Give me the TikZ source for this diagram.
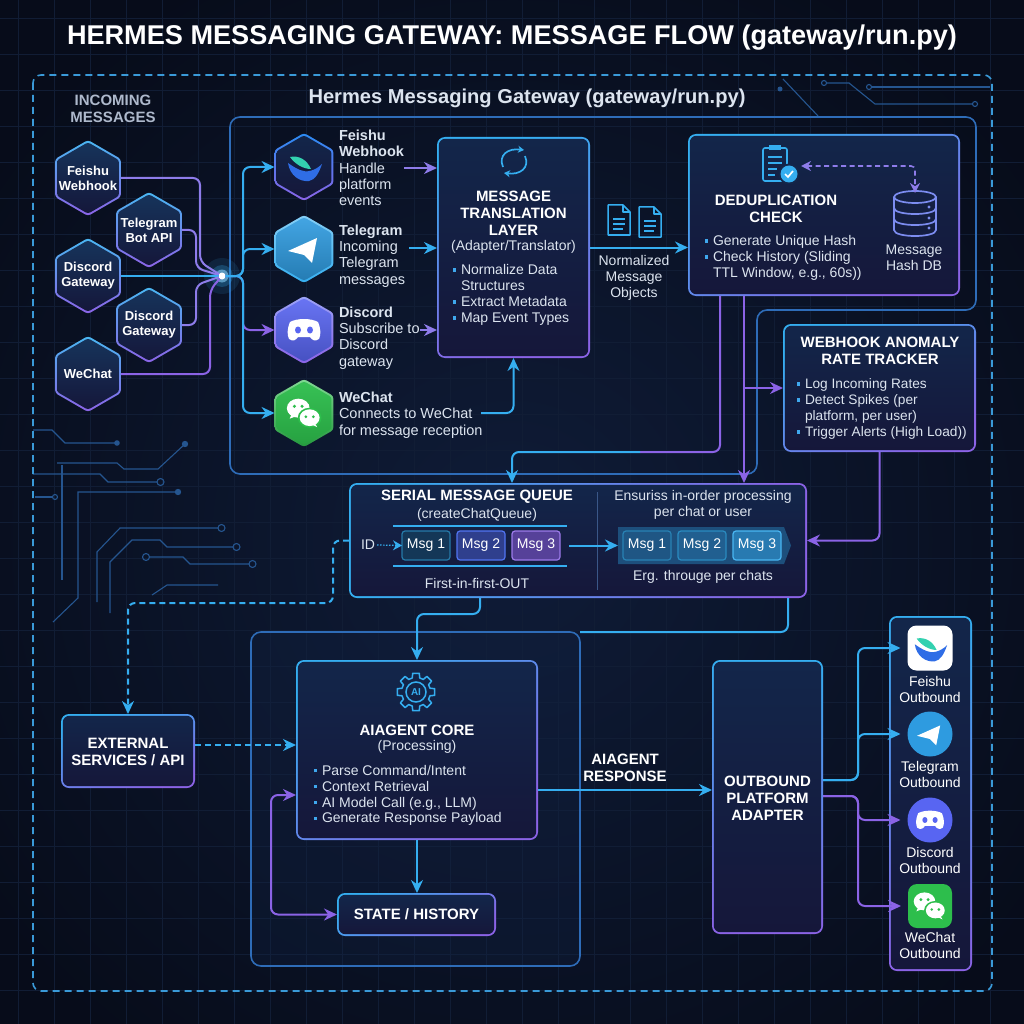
\documentclass[tikz,border=0pt]{standalone}
\usepackage{fontspec}
\setmainfont{Liberation Sans}
\usepackage{graphicx}
\usetikzlibrary{arrows.meta,calc}
\pgfdeclarelayer{bgl}
\pgfdeclarelayer{boxl}
\pgfsetlayers{bgl,boxl,main}

\definecolor{bgC}{HTML}{070C1A}
\definecolor{bgGlow}{HTML}{0F1C38}
\definecolor{gridC}{HTML}{111D35}
\definecolor{traceC}{HTML}{25558F}
\definecolor{cyanC}{HTML}{35AEF0}
\definecolor{purpC}{HTML}{8B63E6}
\definecolor{lavC}{HTML}{8E7CEA}
\definecolor{dashC}{HTML}{3A9AD8}
\definecolor{gwC}{HTML}{2E6CB8}
\definecolor{bxTop}{HTML}{13264A}
\definecolor{bxBot}{HTML}{15173A}
\definecolor{txtC}{HTML}{DCE4EF}
\definecolor{grayC}{HTML}{AEB9CC}
\definecolor{bulC}{HTML}{3FA8EE}
\definecolor{divC}{HTML}{3A5788}
\definecolor{tgBlue}{HTML}{2E9BE0}
\definecolor{dcBlue}{HTML}{5865F2}
\definecolor{wcG}{HTML}{2DBE4C}
\definecolor{fsBlue}{HTML}{2F6DE6}
\definecolor{fsTeal}{HTML}{33D1B0}
\definecolor{dbC}{HTML}{7C8CF0}

\newcommand\myfb{\fontsize{14}{16}\selectfont}
\newcommand\myfp{\fontsize{14.5}{16.4}\selectfont}
\newcommand\myfh{\bfseries\fontsize{15}{17}\selectfont}
\newcommand\myfhex{\bfseries\fontsize{13}{15}\selectfont}
\newcommand\mybul{\makebox[8pt][l]{\textcolor{bulC}{\rule[3pt]{3.3pt}{3.3pt}}}}
\newcommand\myind{\hspace*{8pt}}

\newcommand\mkbox[6]{%
  \pgfmathsetmacro\bxw{#4-#2}\pgfmathsetmacro\bxh{#5-#3}%
  \pgfmathsetmacro\bxx{(#2+#4)/2}\pgfmathsetmacro\bxy{(#3+#5)/2}%
  \node[panel, minimum width=\bxw pt, minimum height=\bxh pt] (#1) at (\bxx,\bxy) {};%
  \begin{pgfonlayer}{boxl}%
    \shade[top color=cyanC, bottom color=purpC, shading angle=#6, rounded corners=8pt] (#1.north west) rectangle (#1.south east);%
    \shade[top color=bxTop, bottom color=bxBot, rounded corners=6.5pt] ([xshift=1.8pt,yshift=-1.8pt]#1.north west) rectangle ([xshift=-1.8pt,yshift=1.8pt]#1.south east);%
  \end{pgfonlayer}}

\newcommand\hexat[5]{%
  \pgfmathsetmacro\myhr{#3-2.3}%
  \shade[#4, rounded corners=3pt] (#1,#2) +(90:#3) -- +(30:#3) -- +(-30:#3) -- +(-90:#3) -- +(-150:#3) -- +(150:#3) -- cycle;%
  \shade[#5, rounded corners=2.5pt] (#1,#2) +(90:\myhr) -- +(30:\myhr) -- +(-30:\myhr) -- +(-90:\myhr) -- +(-150:\myhr) -- +(150:\myhr) -- cycle;}

\tikzset{
  fslogo/.pic={
    \fill[fsTeal] (-13,-11) .. controls (-4,-13) and (4,-8) .. (8,1) .. controls (0,1) and (-8,-4) .. cycle;
    \fill[fsBlue] (-15,-5) .. controls (-13,8) and (-3,14) .. (6,13) .. controls (12,12) and (16,5) .. (19,-4) .. controls (12,3) and (3,5) .. (-3,2) .. controls (-8,0) and (-12,-3) .. cycle;
  },
  tgplane/.pic={
    \fill[white] (-15,1) -- (14,-12) -- (9,13) -- (1,5) -- cycle;
  },
  dcface/.pic={
    \fill[white] (-14,-8) .. controls (-7,-12) and (7,-12) .. (14,-8) .. controls (17,-1) and (17,5) .. (15,9) .. controls (11,12) and (8,10) .. (6,7) -- (-6,7) .. controls (-8,10) and (-11,12) .. (-15,9) .. controls (-17,5) and (-17,-1) .. cycle;
    \fill[dcBlue] (-6,0) ellipse [x radius=3, y radius=3.5] (6,0) ellipse [x radius=3, y radius=3.5];
  },
  wcbub/.pic={
    \fill[white] (-5,-4) ellipse [x radius=12, y radius=10];
    \fill[white] (-14,7) -- (-11,0) -- (-6,4) -- cycle;
    \fill[wcG] (7,6) ellipse [x radius=12.5, y radius=10.5];
    \fill[white] (7,6) ellipse [x radius=10.5, y radius=8.8];
    \fill[white] (15,16) -- (12,11) -- (9,13) -- cycle;
    \fill[wcG] (-9,-6) circle (1.8) (-1,-6) circle (1.8) (3,5) circle (1.6) (11,5) circle (1.6);
  },
  dbicon/.pic={
    \draw[dbC, line width=1.7pt] (0,-16) ellipse [x radius=21, y radius=6];
    \draw[dbC, line width=1.7pt] (-21,-16) -- (-21,17) .. controls (-21,25) and (21,25) .. (21,17) -- (21,-16);
    \draw[dbC, line width=1.7pt] (-21,-5) .. controls (-21,3) and (21,3) .. (21,-5);
    \draw[dbC, line width=1.7pt] (-21,6) .. controls (-21,14) and (21,14) .. (21,6);
    \fill[dbC] (14,-6) circle (1.6) (14,5) circle (1.6) (14,15) circle (1.6);
  },
  clipicon/.pic={
    \draw[cyanC, line width=1.6pt, rounded corners=2pt] (-12,-15) rectangle (12,18);
    \fill[cyanC] (-6,-18) rectangle (6,-13);
    \draw[cyanC, line width=1.5pt] (-7,-6) -- (7,-6) (-7,0) -- (7,0) (-7,6) -- (2,6) (-7,12) -- (0,12);
    \fill[bxTop] (14,11) circle (10.5);
    \fill[cyanC] (14,11) circle (8.5);
    \draw[white, line width=1.7pt] (10,11) -- (13,14) -- (18,8);
  },
  syncicon/.pic={
    \draw[cyanC, line width=1.7pt, -{Stealth[length=6pt,width=7pt]}] (-11,6) .. controls (-16,-6) and (-6,-13) .. (10,-11);
    \draw[cyanC, line width=1.7pt, -{Stealth[length=6pt,width=7pt]}] (11,-5) .. controls (16,7) and (6,14) .. (-10,12);
  },
  docicon/.pic={
    \draw[cyanC, line width=1.5pt, line join=round] (-11,-15) -- (4,-15) -- (11,-8) -- (11,15) -- (-11,15) -- cycle;
    \draw[cyanC, line width=1.5pt, line join=round] (4,-15) -- (4,-8) -- (11,-8);
    \draw[cyanC, line width=1.5pt] (-6,-1) -- (6,-1) (-6,4) -- (6,4) (-6,9) -- (4,9);
  },
  gearicon/.pic={
    \draw[cyanC, line width=1.5pt, line join=round] (-10:19) \foreach \a in {0,45,...,315} { -- (\a-10:19) -- (\a+10:19) -- (\a+15:14.5) -- (\a+30:14.5) } -- cycle;
    \draw[cyanC, line width=1.5pt] (0,0) circle (10);
  },
  hexO/.style={top color=cyanC!90!white, bottom color=purpC},
  hexI/.style={top color=bxTop!90!cyanC, bottom color=bxBot},
  fsO/.style={top color=cyanC!80!blue, bottom color=purpC},
  fsI/.style={top color=bxTop, bottom color=bxBot},
  tgO/.style={top color=cyanC!60!white, bottom color=cyanC},
  tgI/.style={top color=tgBlue!90!white, bottom color=tgBlue!80!black},
  dcO/.style={top color=dcBlue!60!white, bottom color=purpC},
  dcI/.style={top color=dcBlue!90!white, bottom color=dcBlue!80!black},
  wcO/.style={top color=wcG!60!white, bottom color=wcG!80!black},
  wcI/.style={top color=wcG!95!white, bottom color=wcG!85!black},
}

\begin{document}
\begin{tikzpicture}[x=1pt,y=-1pt,
  every node/.style={inner sep=0pt, outer sep=0pt, text=txtC},
  arr/.style={-{Stealth[length=13pt,width=12pt]}, line width=2pt, rounded corners=7pt},
  darr/.style={arr, dash pattern=on 6pt off 4pt},
  wire/.style={line width=2pt, rounded corners=7pt},
  panel/.style={rectangle, draw=none},
  hexlbl/.style={rectangle, minimum width=65.8pt, minimum height=60pt, align=center, font=\myfhex, text=white},
  phex/.style={rectangle, minimum width=58.9pt, minimum height=68pt},
  msgbox/.style={rectangle, rounded corners=3pt, minimum width=48pt, minimum height=29pt, line width=1.2pt, font=\myfb, text=white},
  trace/.style={draw=traceC, line width=1.1pt},
]
\useasboundingbox (0,0) rectangle (1024,1024);

% ---------- background ----------
\begin{pgfonlayer}{bgl}
  \fill[bgC] (0,0) rectangle (1024,1024);
  \begin{scope}
    \clip (0,0) rectangle (1024,1024);
    \shade[inner color=bgGlow, outer color=bgC] (512,540) circle (640);
  \end{scope}
  \foreach \g in {18,54,...,1010} {
    \draw[gridC, line width=0.6pt] (\g,0) -- (\g,1024);
    \draw[gridC, line width=0.6pt] (0,\g) -- (1024,\g);
  }
  % circuit traces
  \draw[trace] (33,430) -- (52,430) -- (65,443) -- (117,443);
  \fill[traceC] (117,443) circle (2.8);
  \draw[trace] (57,463) -- (117,463) -- (124,469) -- (158,469) -- (185,444);
  \fill[traceC] (185,444) circle (3.2);
  \draw[trace] (33,474) -- (100,474) -- (108,482) -- (157,482);
  \draw[trace] (160.5,482) circle (3.5);
  \draw[trace] (62,465) -- (62,580);
  \draw[trace] (178,492) -- (78,492) -- (78,598) -- (53,622);
  \fill[traceC] (178,492) circle (3.2);
  \draw[trace] (35,497) -- (52,497);
  \draw[trace] (55,497) circle (2.5);
  \draw[trace] (97,602) -- (97,552) -- (120,528) -- (218,528);
  \draw[trace] (221.5,528) circle (3.5);
  \draw[trace] (110,613) -- (110,562) -- (132,540) -- (160,540) -- (167,547) -- (233,547);
  \draw[trace] (236.5,547) circle (3.5);
  \draw[trace] (146,557) circle (3.5);
  \draw[trace] (149.5,557) -- (183,557) -- (190,564) -- (249,564);
  \draw[trace] (252.5,564) circle (3.5);
  \draw[trace] (152,595) -- (167,585) -- (218,585);
  \draw[trace] (783,79) -- (818,116);
  \draw[trace] (824,83) circle (2.5);
  \draw[trace] (826.5,83) -- (849,83) -- (875,104) -- (972,104);
  \draw[trace] (975,104) circle (2.5);
  \draw[trace] (869,87) circle (2.5);
  \draw[trace] (871.5,87) -- (990,87);
  \fill[traceC] (780,89) circle (2.5);
\end{pgfonlayer}

% ---------- titles and frames ----------
\node[text=white] (title) at (512,38) {\resizebox{890pt}{!}{\bfseries\fontsize{24}{28}\selectfont HERMES MESSAGING GATEWAY: MESSAGE FLOW (gateway/run.py)}};
\draw[dashC, line width=1.6pt, dash pattern=on 7pt off 5pt, rounded corners=8pt] (33,75) rectangle (992,991);
\node[align=center, font=\bfseries\fontsize{15}{17}\selectfont, text=grayC] (inLbl) at (113,109) {INCOMING\\MESSAGES};
\node[text=txtC] (sub) at (527,98) {\resizebox{437pt}{!}{\bfseries\fontsize{18}{20}\selectfont Hermes Messaging Gateway (gateway/run.py)}};

\begin{pgfonlayer}{boxl}
  \draw[gwC, line width=1.6pt, rounded corners=10pt] (230,117) -- (976,117) -- (976,310) -- (757,310) -- (757,474) -- (230,474) -- cycle;
\end{pgfonlayer}

% ---------- incoming hexes ----------
\hexat{88}{178}{38}{hexO}{hexI}
\node[hexlbl] (inF) at (88,178) {Feishu\\Webhook};
\hexat{149}{230}{38}{hexO}{hexI}
\node[hexlbl] (inT) at (149,230) {Telegram\\Bot API};
\hexat{88}{276}{38}{hexO}{hexI}
\node[hexlbl] (inD1) at (88,276) {Discord\\Gateway};
\hexat{149}{325}{38}{hexO}{hexI}
\node[hexlbl] (inD2) at (149,325) {Discord\\Gateway};
\hexat{88}{374}{38}{hexO}{hexI}
\node[hexlbl] (inW) at (88,374) {WeChat};

% junction glow
\fill[cyanC, opacity=0.12] (222,276) circle (18);
\fill[cyanC, opacity=0.25] (222,276) circle (11);
\fill[cyanC!60!white, opacity=0.6] (222,276) circle (6.5);
\node[circle, fill=white, minimum size=7pt] (jn) at (222,276) {};

\draw[wire, lavC] (inF.east) -- (200,178) -- (200,262) -- (jn);
\draw[wire, lavC] (inT.east) -- (196,230) -- (196,268) -- (jn);
\draw[wire, cyanC] (inD1.east) -- (jn);
\draw[wire, lavC] (inD2.east) -- (196,325) -- (196,285) -- (jn);
\draw[wire, purpC] (inW.east) -- (210,374) -- (210,290) -- (jn);

% ---------- platform hexes ----------
\hexat{304}{167}{34}{fsO}{fsI}
\node[phex] (pF) at (304,167) {};
\pic at (303,168) {fslogo};
\hexat{304}{249}{34}{tgO}{tgI}
\node[phex] (pT) at (304,249) {};
\pic at (303,250) {tgplane};
\hexat{304}{330}{34}{dcO}{dcI}
\node[phex] (pD) at (304,330) {};
\pic at (304,330) {dcface};
\hexat{304}{413}{34}{wcO}{wcI}
\node[phex] (pW) at (304,413) {};
\pic[scale=0.95] at (303,412) {wcbub};

\draw[arr, cyanC] (jn) -| (243,167) -- (pF.west);
\draw[arr, cyanC] (jn) -| (243,249) -- (pT.west);
\draw[arr, purpC] (jn) -| (243,330) -- (pD.west);
\draw[arr, cyanC] (jn) -| (243,413) -- (pW.west);

\node[anchor=west, align=left, font=\myfp] (tF) at (339,168) {\textbf{Feishu}\\\textbf{Webhook}\\Handle\\platform\\events};
\node[anchor=west, align=left, font=\myfp] (tT) at (339,256) {\textbf{Telegram}\\Incoming\\Telegram\\messages};
\node[anchor=west, align=left, font=\myfp] (tD) at (339,338) {\textbf{Discord}\\Subscribe to\\Discord\\gateway};
\node[anchor=west, align=left, font=\myfp] (tW) at (339,415) {\textbf{WeChat}\\Connects to WeChat\\for message reception};

% ---------- translation layer ----------
\mkbox{trans}{437}{137}{590}{358}{20}
\pic at (514,161) {syncicon};
\node[align=center, font=\myfh, text=white] (transT) at (513.5,213) {MESSAGE\\TRANSLATION\\LAYER};
\node[font=\myfb] (transS) at (513.5,247) {(Adapter/Translator)};
\node[anchor=west, align=left, font=\myfb] (transB) at (453,295) {\mybul Normalize Data\\\myind Structures\\\mybul Extract Metadata\\\mybul Map Event Types};

\coordinate (aF) at (404,168);
\coordinate (aT) at (409,248);
\coordinate (aD) at (420,330);
\coordinate (aW) at (481,413);
\draw[arr, lavC] (aF) -- (aF -| trans.west);
\draw[arr, cyanC] (aT) -- (aT -| trans.west);
\draw[arr, lavC] (aD) -- (aD -| trans.west);
\draw[arr, cyanC] (aW) -| (trans.south);

% normalized objects
\pic at (619,220) {docicon};
\pic at (650,222) {docicon};
\node[align=center, font=\myfb] (norm) at (634,278) {Normalized\\Message\\Objects};

% ---------- dedup ----------
\mkbox{dedup}{688}{134}{960}{296}{30}
\pic at (775,163) {clipicon};
\coordinate (clipR) at (801,166);
\node[circle, minimum size=44pt] (db) at (915,213) {};
\pic at (915,213) {dbicon};
\draw[lavC, line width=1.6pt, dash pattern=on 5pt off 3.5pt, rounded corners=4pt, {Stealth[length=10pt,width=10pt]}-{Stealth[length=10pt,width=10pt]}] (clipR) -| ([yshift=-2pt]db.north);
\node[align=center, font=\myfh, text=white] (dedT) at (776,209) {DEDUPLICATION\\CHECK};
\node[anchor=west, align=left, font=\myfb] (dedB) at (705,258) {\mybul Generate Unique Hash\\\mybul Check History (Sliding\\\myind TTL Window, e.g., 60s))};
\node[align=center, font=\myfb] (dbL) at (914,258) {Message\\Hash DB};

\draw[arr, cyanC] (trans.east) -- (trans.east -| dedup.west);

% ---------- tracker ----------
\mkbox{track}{783}{324}{976}{452}{30}
\node[align=center, font=\myfh, text=white] (trT) at (880,351) {WEBHOOK ANOMALY\\RATE TRACKER};
\node[anchor=west, align=left, font=\fontsize{13.7}{16}\selectfont] (trB) at (797,409) {\mybul Log Incoming Rates\\\mybul Detect Spikes (per\\\myind platform, per user)\\\mybul Trigger Alerts (High Load))};

% ---------- queue ----------
\mkbox{queue}{349}{483}{807}{598}{75}
\draw[divC, line width=1pt] (597,492) -- (597,590);
\node[font=\myfh, text=white] (qT) at (477,497) {SERIAL MESSAGE QUEUE};
\node[font=\myfb] (qS) at (477,515) {(createChatQueue)};
\draw[cyanC, line width=1.3pt] (393,526) -- (567,526);
\draw[cyanC, line width=1.3pt] (393,566) -- (567,566);
\node[font=\myfb] (qID) at (368,545) {ID};
\node[msgbox, fill=bxTop!70!cyanC!70!black, draw=cyanC!70!black] (m1) at (426,545.5) {Msg 1};
\node[msgbox, fill=bxTop!60!dcBlue, draw=dcBlue!80!cyanC] (m2) at (481,545.5) {Msg 2};
\node[msgbox, fill=purpC!55!bxBot, draw=purpC!85!white] (m3) at (536,545.5) {Msg 3};
\draw[cyanC, line width=1.2pt, dash pattern=on 1.5pt off 1.5pt, -{Stealth[length=9pt,width=10pt]}] ([xshift=2pt]qID.east) -- (m1.west);
\node[panel, minimum width=166pt, minimum height=37pt] (rib) at (701,545.5) {};
\fill[cyanC!30!bxTop] (618,527) -- (784,527) -- (791,545.5) -- (784,564) -- (618,564) -- cycle;
\node[msgbox, fill=cyanC!35!bxTop, draw=cyanC!75!black] (r1) at (647,545.5) {Msg 1};
\node[msgbox, fill=cyanC!42!bxTop, draw=cyanC!80!black] (r2) at (702,545.5) {Msg 2};
\node[msgbox, fill=cyanC!62!bxTop, draw=cyanC!90!white] (r3) at (757,545.5) {Msg 3};
\draw[arr, cyanC] ([xshift=9pt]m3.east) -- (rib.west);
\node[align=center, font=\myfb] (qE) at (703,505) {Ensuriss in-order processing\\per chat or user};
\node[font=\myfb] (qErg) at (703,577) {Erg. througe per chats};
\node[font=\myfb] (qFifo) at (477,583) {First-in-first-OUT};

% dedup / tracker to queue
\draw[wire, purpC] ([xshift=-104pt]dedup.south) -- (720,452) -- (640,452);
\draw[arr, cyanC] (640,452) -- (512,452) -- ([xshift=-66pt]queue.north);
\draw[arr, purpC] ([xshift=-80pt]dedup.south) -- ([xshift=166pt]queue.north);
\coordinate (tb) at (744,388);
\draw[arr, purpC] (tb) -- (track.west);
\draw[arr, purpC] (track.south) |- (queue.east);

% ---------- AI area ----------
\node[panel, minimum width=329pt, minimum height=334pt] (aiC) at (415.5,799) {};
\begin{pgfonlayer}{boxl}
  \draw[gwC, line width=1.6pt, rounded corners=10pt, fill=bxTop, fill opacity=0.25] (aiC.north west) rectangle (aiC.south east);
\end{pgfonlayer}

\mkbox{ext}{61}{714}{195}{788}{20}
\node[align=center, font=\myfh, text=white] (extT) at (128,751.5) {EXTERNAL\\SERVICES / API};
\draw[darr, cyanC] (queue.west) -- (333,540.5) -- (333,603) -| (ext.north);

\mkbox{core}{296}{660}{538}{840}{35}
\pic at (416,692) {gearicon};
\node[font=\bfseries\fontsize{10}{10}\selectfont, text=cyanC] (aiTxt) at (416,692.5) {AI};
\node[font=\myfh, text=white] (coreT) at (417,730) {AIAGENT CORE};
\node[font=\myfb] (coreS) at (417,747) {(Processing)};
\node[anchor=west, align=left, font=\fontsize{14}{15.8}\selectfont] (coreB) at (314,795.5) {\mybul Parse Command/Intent\\\mybul Context Retrieval\\\mybul AI Model Call (e.g., LLM)\\\mybul Generate Response Payload};

\draw[darr, cyanC] ([yshift=6pt]ext.east) -- ([yshift=6pt]ext.east -| core.west);

\draw[arr, cyanC] ([xshift=-98pt]queue.south) -- ++(0,16) -| (core.north);
\draw[wire, cyanC] ([xshift=210pt]queue.south) |- (aiC.north east);

\mkbox{state}{337}{893}{496}{936}{30}
\node[font=\myfh, text=white] (stT) at (416.5,914.5) {STATE / HISTORY};
\draw[arr, cyanC] (core.south) -- (core.south |- state.north);
\draw[purpC, line width=2pt, rounded corners=7pt, {Stealth[length=13pt,width=12pt]}-{Stealth[length=13pt,width=12pt]}] ([yshift=-45pt]core.west) -| (271,914.5) -- (state.west);

% ---------- outbound ----------
\node[align=center, font=\myfh, text=white] (resp) at (625,768) {AIAGENT\\RESPONSE};
\mkbox{outA}{712}{660}{823}{934}{0}
\node[align=center, font=\myfh, text=white] (outT) at (767.5,798) {OUTBOUND\\PLATFORM\\ADAPTER};
\draw[arr, cyanC] ([yshift=-40pt]core.east) -- ([yshift=-40pt]core.east -| outA.west);

\mkbox{outC}{889}{616}{972}{971}{0}
\node[rectangle, rounded corners=9pt, fill=white, minimum size=45pt] (oF) at (930,648) {};
\pic[scale=0.95] at (929,649) {fslogo};
\node[align=center, font=\myfb, text=white] (oFl) at (930,689.5) {Feishu\\Outbound};
\node[circle, fill=tgBlue, minimum size=45pt] (oT) at (930,734) {};
\pic[scale=0.8] at (929,735) {tgplane};
\node[align=center, font=\myfb, text=white] (oTl) at (930,774.5) {Telegram\\Outbound};
\node[circle, fill=dcBlue, minimum size=45pt] (oD) at (930,820) {};
\pic[scale=0.85] at (930,820) {dcface};
\node[align=center, font=\myfb, text=white] (oDl) at (930,860.5) {Discord\\Outbound};
\node[rectangle, rounded corners=9pt, fill=wcG, minimum size=44pt] (oW) at (930,906) {};
\pic[scale=0.9] at (929,905) {wcbub};
\node[align=center, font=\myfb, text=white] (oWl) at (930,945.5) {WeChat\\Outbound};

\draw[arr, cyanC] ([yshift=17pt]outA.east) -| (858,648) -- ([xshift=-7pt]oF.west);
\draw[arr, cyanC] ([yshift=17pt]outA.east) -| (858,734) -- ([xshift=-7pt]oT.west);
\draw[arr, purpC] ([yshift=1pt]outA.east) -| (858,820) -- ([xshift=-7pt]oD.west);
\draw[arr, purpC] ([yshift=1pt]outA.east) -| (858,906) -- ([xshift=-7pt]oW.west);
\end{tikzpicture}
\end{document}
